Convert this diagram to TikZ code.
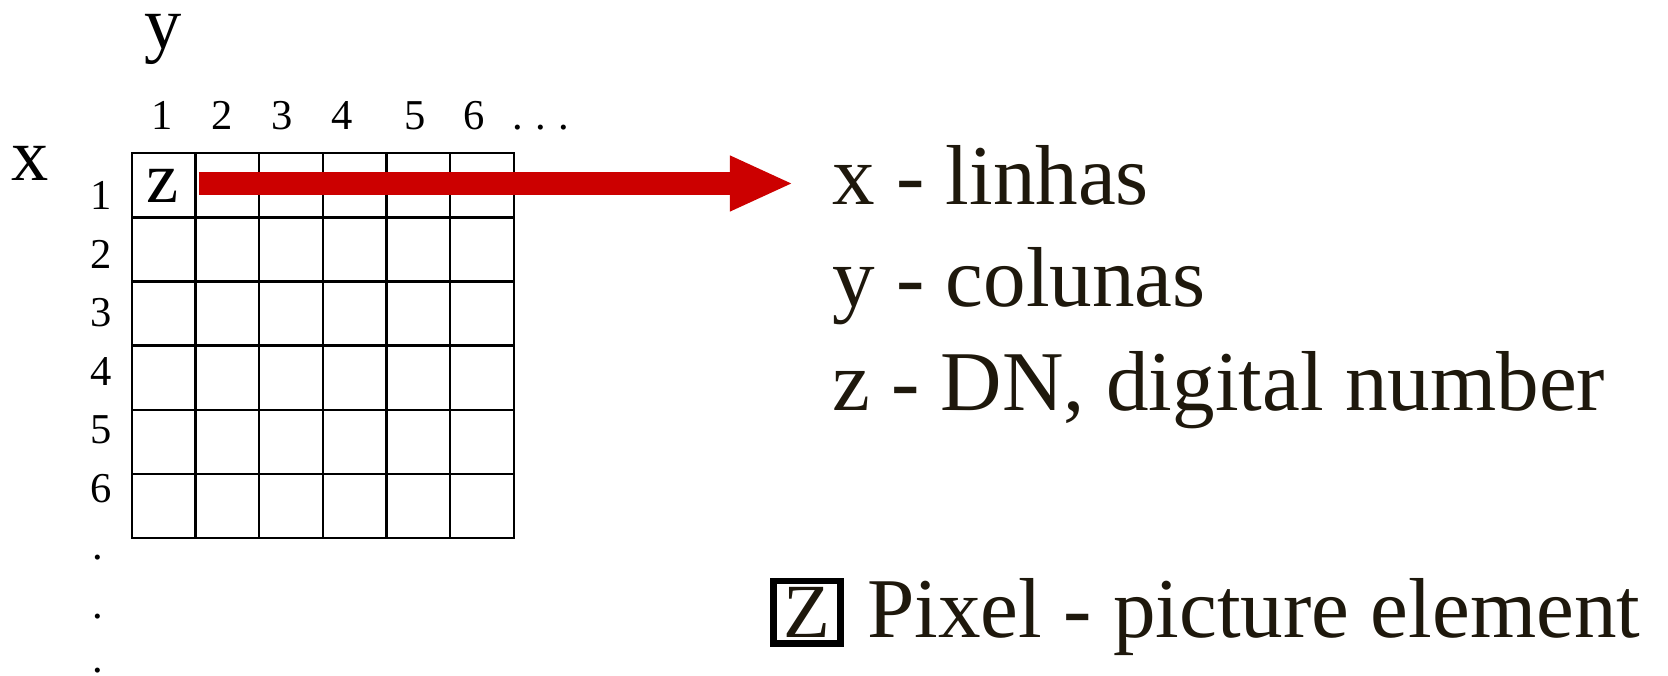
\documentclass[tikz,border=0pt]{standalone}
\usepackage{fontspec}
\setmainfont{Liberation Serif}
\usetikzlibrary{arrows.meta}
\definecolor{arrred}{RGB}{204,0,0}
\definecolor{txtdark}{RGB}{30,24,12}
\begin{document}
\begin{tikzpicture}[x=0.5pt,y=-0.5pt,
  lab/.style={font=\fontsize{35}{35}\selectfont, inner sep=0pt, anchor=base},
  num/.style={font=\fontsize{20}{20}\selectfont, inner sep=0pt, anchor=base},
  desc/.style={font=\fontsize{40}{40}\selectfont, text=txtdark, inner sep=0pt, anchor=base west},
  gridline/.style={line width=1.15pt, line cap=rect},
  bigarrow/.style={arrred, line width=10.5pt, -{Triangle[length=30pt,width=24pt]}}]
\useasboundingbox (0,0) rectangle (1568,635);
% axis letters
\node[lab] (ylab) at (153,46) {y};
\node[lab] (xlab) at (28,170) {x};
% column numbers
\foreach \n/\x in {1/152,2/209,3/265,4/322,5/390,6/446}
  \node[num] (c\n) at (\x,122) {\n};
\node[num, anchor=base west] (cdots) at (481,122) {.\kern6pt.\kern6pt.};
% row numbers
\foreach \n/\y in {1/197,2/252,3/307,4/362,5/417,6/472}
  \node[num] (r\n) at (95,\y) {\n};
\foreach \i/\y in {1/526,2/581,3/632}
  \node[num] (d\i) at (92,\y) {.};
% grid
\foreach \i in {0,...,6} {
  \draw[gridline] ({124+59.83*\i},144) -- ({124+59.83*\i},506);
  \draw[gridline] (124,{144+60.33*\i}) -- (483,{144+60.33*\i});
}
\node[font=\fontsize{34}{34}\selectfont, inner sep=0pt, anchor=base] (z) at (153,190) {z};
% descriptions
\node[desc] (tx) at (782,192) {x - linhas};
\node[desc] (ty) at (782,288) {y - colunas};
\node[desc] (tz) at (782,386) {z - DN, digital number};
% arrow
\coordinate (as) at (187,172.5);
\coordinate (ae) at (746,172.5);
\draw[bigarrow] (as) -- (ae);
% legend
\node[draw=black, line width=3pt, minimum width=31.5pt, minimum height=29.5pt, inner sep=0pt,
      text=txtdark, font=\fontsize{36}{36}\selectfont] (pz) at (758.5,575.5) {Z};
\node[desc] (tp) at (815,599) {Pixel - picture element};
\end{tikzpicture}
\end{document}
